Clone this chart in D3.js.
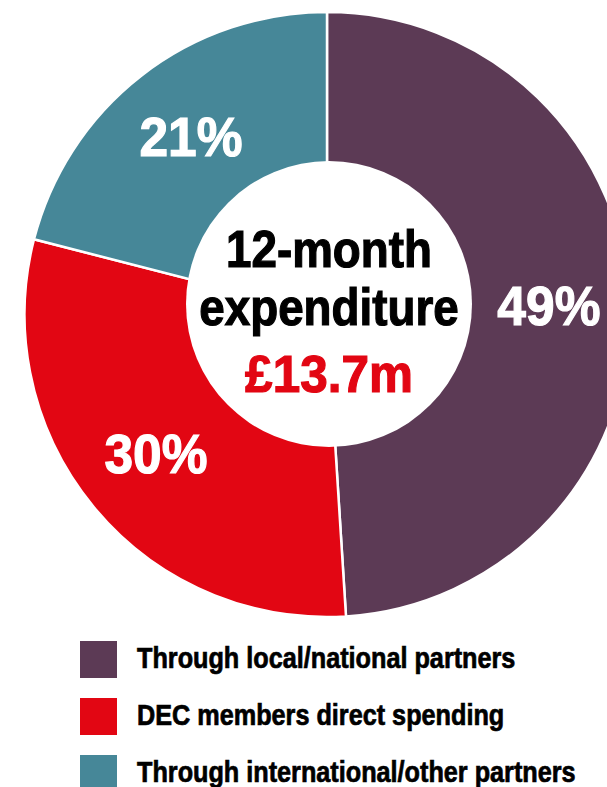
<!DOCTYPE html>
<html>
<head>
<meta charset="utf-8">
<script src="https://cdn.jsdelivr.net/npm/d3@7"></script>
<style>
    html, body { margin: 0; padding: 0; background: #fff; }
    svg { display: block; }
    text { font-family: "Liberation Sans", Arial, sans-serif; font-weight: bold; }
</style>
</head>
<body>
<div id="chart"></div>
<script>
// data
let categories = ["Through local/national partners", "DEC members direct spending", "Through international/other partners"];
let shares = [49, 30, 21];
let colors = ["#5c3a55", "#e20613", "#468798"];
let centerLines = ["12-month", "expenditure"];
let totalLabel = "£13.7m";

let width = 607;
let height = 787;
let cx = 327, cy = 314.5;
let outerR = 302.5;
let holeR = 143;
let hole = { x: 329, y: 304 };
let labelR = 222;
// no condensed face installed, so squeeze horizontally
let squeeze = 0.88;

let svg = d3.select("#chart").append("svg")
    .attr("width", width)
    .attr("height", height);

let pie = d3.pie().sort(null).value(d => d.value);
let slices = pie(shares.map((v, i) => ({ value: v, name: categories[i], color: colors[i] })));

let arc = d3.arc().innerRadius(0).outerRadius(outerR);
let labelArc = d3.arc().innerRadius(labelR).outerRadius(labelR);

let g = svg.append("g").attr("transform", `translate(${cx},${cy})`);

g.selectAll("path.slice")
    .data(slices)
    .enter()
    .append("path")
    .attr("class", "slice")
    .attr("d", arc)
    .style("fill", d => d.data.color)
    .style("stroke", "#fff")
    .style("stroke-width", 2.5);

// white hole, sits a bit above the ring centre
svg.append("circle")
    .attr("cx", hole.x)
    .attr("cy", hole.y)
    .attr("r", holeR)
    .style("fill", "#fff");

// percentages
g.selectAll("g.pct")
    .data(slices)
    .enter()
    .append("g")
    .attr("class", "pct")
    .attr("transform", d => {
        let c = labelArc.centroid(d);
        return `translate(${c[0]},${c[1] + 17}) scale(0.92,1)`;
    })
    .append("text")
    .attr("text-anchor", "middle")
    .style("font-size", "56px")
    .style("fill", "#fff")
    .style("stroke", "#fff")
    .style("stroke-width", 1.2)
    .text(d => d.data.value + "%");

// centre text
centerLines.forEach((line, i) => {
    svg.append("g")
        .attr("transform", `translate(${hole.x},${267 + i * 58}) scale(${squeeze},1)`)
        .append("text")
        .attr("text-anchor", "middle")
        .style("font-size", "52px")
        .style("fill", "#000")
        .style("stroke", "#000")
        .style("stroke-width", 1.2)
        .text(line);
});

svg.append("g")
    .attr("transform", `translate(${hole.x},392) scale(0.97,1)`)
    .append("text")
    .attr("text-anchor", "middle")
    .style("font-size", "51px")
    .style("fill", "#e20613")
    .style("stroke", "#e20613")
    .style("stroke-width", 1.2)
    .text(totalLabel);

// legend
let legend = svg.append("g").attr("transform", "translate(80,641)");
let items = legend.selectAll("g.item")
    .data(categories)
    .enter()
    .append("g")
    .attr("class", "item")
    .attr("transform", (d, i) => `translate(0,${i * 57})`);

items.append("rect")
    .attr("width", 37)
    .attr("height", 37)
    .style("fill", (d, i) => colors[i]);

items.append("g")
    .attr("transform", `translate(57,27) scale(0.87,1)`)
    .append("text")
    .style("font-size", "29px")
    .style("fill", "#000")
    .style("stroke", "#000")
    .style("stroke-width", 0.7)
    .text(d => d);
</script>
</body>
</html>
